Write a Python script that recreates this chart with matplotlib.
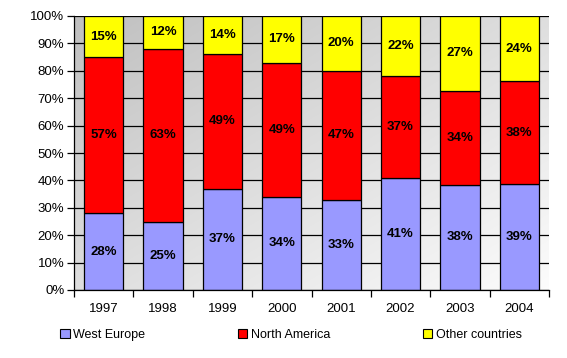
import numpy as np
import matplotlib
matplotlib.use("Agg")
import matplotlib.pyplot as plt

plt.rcParams['font.family'] = ['Liberation Sans', 'DejaVu Sans']

years = ['1997', '1998', '1999', '2000', '2001', '2002', '2003', '2004']
west_europe = [28, 25, 37, 34, 33, 41, 38, 39]
north_america = [57, 63, 49, 49, 47, 37, 34, 38]
other = [15, 12, 14, 17, 20, 22, 27, 24]

series = [
    ('West Europe', west_europe, '#9999FF'),
    ('North America', north_america, '#FF0000'),
    ('Other countries', other, '#FFFF00'),
]

fig = plt.figure(figsize=(5.67, 3.58), dpi=100)
ax = fig.add_axes([74 / 567, 1 - 290 / 358, 475 / 567, 274 / 358])

n = len(years)
x = np.arange(n)
totals = np.array(west_europe) + np.array(north_america) + np.array(other)

# diagonal grey gradient behind the bars
gy, gx = np.mgrid[0:1:400j, 0:1:400j]
g = 0.75 + 0.24 * (gx * 0.5 + gy * 0.5)
rgb = np.dstack([g, g, g])
ax.imshow(rgb, extent=[-0.5, n - 0.5, 0, 100], aspect='auto',
          origin='upper', interpolation='bilinear', zorder=0)

ax.set_xlim(-0.5, n - 0.5)
ax.set_ylim(0, 100)
ax.set_yticks(np.arange(0, 101, 10))
ax.set_yticklabels([f'{v}%' for v in range(0, 101, 10)], fontsize=9.5)
ax.yaxis.grid(True, color='black', linewidth=0.9, zorder=1)
ax.set_axisbelow(True)

bottom = np.zeros(n)
handles = []
for name, vals, color in series:
    h = np.array(vals) / totals * 100
    bars = ax.bar(x, h, width=0.66, bottom=bottom, color=color,
                  edgecolor='black', linewidth=0.9, zorder=2, label=name)
    for xi, b, hi, v in zip(x, bottom, h, vals):
        ax.text(xi, b + hi / 2, f'{v}%', ha='center', va='center',
                fontsize=9.5, fontweight='bold', zorder=3)
    bottom += h
    handles.append(bars)

ax.set_xticks(x)
ax.set_xticklabels(years, fontsize=9.5)
ax.tick_params(axis='x', length=0, pad=9)
ax.set_xticks(np.arange(-0.5, n, 1), minor=True)
ax.tick_params(axis='x', which='minor', length=5, width=0.9, direction='out')
ax.tick_params(axis='y', length=5, width=0.9, direction='out', pad=2)

for s in ['top', 'right']:
    ax.spines[s].set_visible(False)
for s in ['left', 'bottom']:
    ax.spines[s].set_linewidth(0.9)

leg = fig.legend(handles=handles, loc='center left', ncol=3, frameon=False,
                 fontsize=9, bbox_to_anchor=(49 / 567, 1 - 335 / 358),
                 handlelength=0.75, handleheight=0.75, handletextpad=0.3,
                 columnspacing=7.4)
for p in leg.get_patches():
    p.set_linewidth(0.8)

fig.savefig('out.png', dpi=100)
